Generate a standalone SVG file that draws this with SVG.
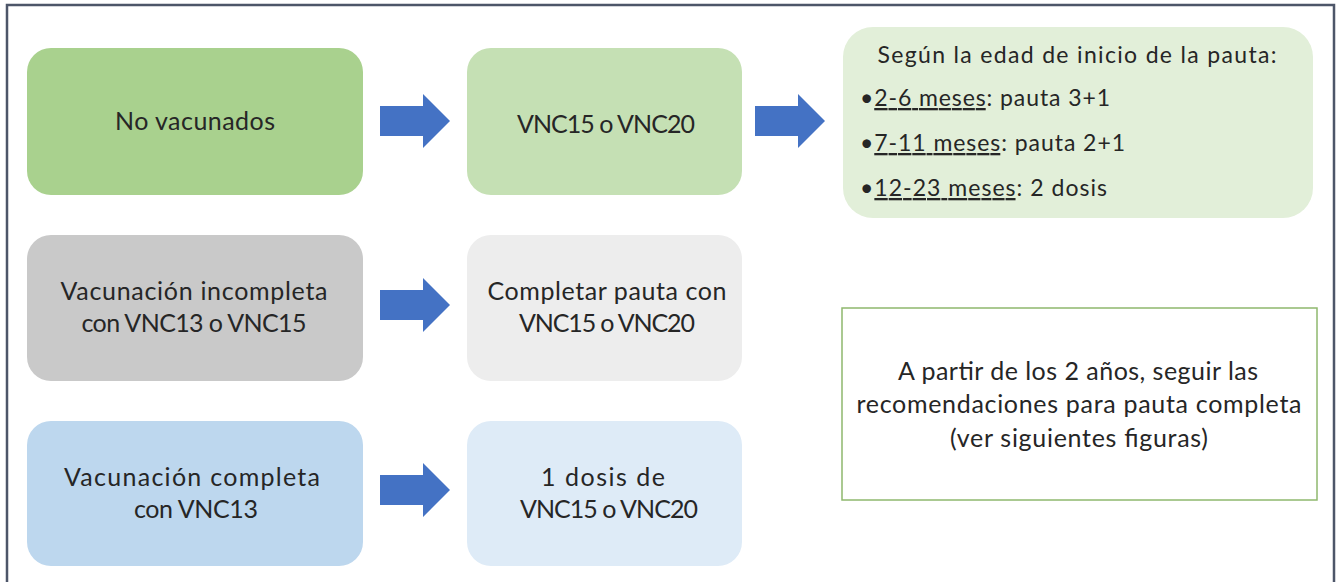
<svg xmlns="http://www.w3.org/2000/svg" width="1339" height="582" viewBox="0 0 1339 582">
<style>
text{font-family:Lato,"Liberation Sans",sans-serif;fill:#262626}
.c{text-anchor:middle}
.t{font-size:25px}
.s{font-size:23px}
.arrow{fill:#4472c4}
</style>
<defs>
<path id="arr" d="M0,-15 H43 V-27 L70,0 L43,27 V15 H0 Z"/>
</defs>
<rect x="0" y="0" width="1339" height="582" fill="#ffffff"/>
<path d="M7,583 V5 H1334 V583" fill="none" stroke="#4d5669" stroke-width="2.5"/>
<g id="connectors">
<use href="#arr" class="arrow" transform="translate(380,121)"/>
<use href="#arr" class="arrow" transform="translate(755,121)"/>
<use href="#arr" class="arrow" transform="translate(380,305)"/>
<use href="#arr" class="arrow" transform="translate(380,490)"/>
</g>
<g id="n1">
<rect x="27" y="48" width="336" height="147" rx="24" fill="#a9d18e"/>
<text class="c t" x="195" y="130" textLength="160" lengthAdjust="spacing">No vacunados</text>
</g>
<g id="n2">
<rect x="467" y="48" width="275" height="147" rx="24" fill="#c5e0b4"/>
<text class="c t" x="606" y="133" textLength="178" lengthAdjust="spacing">VNC15 o VNC20</text>
</g>
<g id="n3">
<rect x="843" y="27" width="470" height="191" rx="30" fill="#e2efd9"/>
<text class="c s" x="1077" y="63" textLength="399" lengthAdjust="spacing">Según la edad de inicio de la pauta:</text>
<text class="s" x="860" y="106" textLength="250" lengthAdjust="spacing">•<tspan text-decoration="underline">2-6 meses</tspan>: pauta 3+1</text>
<text class="s" x="860" y="151" textLength="265" lengthAdjust="spacing">•<tspan text-decoration="underline">7-11 meses</tspan>: pauta 2+1</text>
<text class="s" x="860" y="196" textLength="247" lengthAdjust="spacing">•<tspan text-decoration="underline">12-23 meses</tspan>: 2 dosis</text>
</g>
<g id="n4">
<rect x="27" y="235" width="336" height="146" rx="24" fill="#c9c9c9"/>
<text class="c t" x="194" y="300" textLength="267" lengthAdjust="spacing">Vacunación incompleta</text>
<text class="c t" x="194" y="332" textLength="225" lengthAdjust="spacing">con VNC13 o VNC15</text>
</g>
<g id="n5">
<rect x="467" y="235" width="275" height="146" rx="24" fill="#ededed"/>
<text class="c t" x="607" y="300" textLength="239" lengthAdjust="spacing">Completar pauta con</text>
<text class="c t" x="607" y="332" textLength="176" lengthAdjust="spacing">VNC15 o VNC20</text>
</g>
<g id="n6">
<rect x="27" y="421" width="336" height="145" rx="24" fill="#bdd7ee"/>
<text class="c t" x="192" y="486" textLength="256" lengthAdjust="spacing">Vacunación completa</text>
<text class="c t" x="196" y="518" textLength="124" lengthAdjust="spacing">con VNC13</text>
</g>
<g id="n7">
<rect x="467" y="421" width="275" height="145" rx="24" fill="#deebf7"/>
<text class="c t" x="603" y="486" textLength="124" lengthAdjust="spacing">1 dosis de</text>
<text class="c t" x="609" y="518" textLength="178" lengthAdjust="spacing">VNC15 o VNC20</text>
</g>
<g id="n8">
<rect x="842" y="308" width="475" height="192" fill="#ffffff" stroke="#8fb86e" stroke-width="1.5"/>
<text class="c t" x="1078" y="380" textLength="360" lengthAdjust="spacing">A partir de los 2 años, seguir las</text>
<text class="c t" x="1079" y="413" textLength="445" lengthAdjust="spacing">recomendaciones para pauta completa</text>
<text class="c t" x="1079" y="447" textLength="258" lengthAdjust="spacing">(ver siguientes figuras)</text>
</g>
</svg>
